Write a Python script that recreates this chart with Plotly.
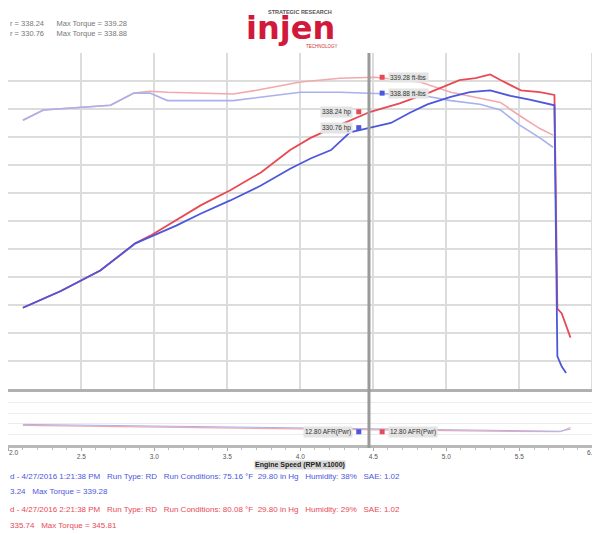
import plotly.graph_objects as go

# Design constants
RED = "#e84a55"
RED_LIGHT = "#f2a9ac"
BLUE = "#4c57dc"
BLUE_LIGHT = "#aab0ee"
GRID = "#dcdcdc"
CURSOR = "#9a9a9a"

# Engine speed (RPM x1000) and curves
rpm_hp_red = [2.10, 2.36, 2.63, 2.87, 2.97, 3.15, 3.32, 3.52, 3.73, 3.93, 4.07, 4.21, 4.34,
              4.48, 4.68, 4.89, 5.09, 5.20, 5.30, 5.37, 5.51, 5.64, 5.74, 5.76, 5.79, 5.85]
hp_red = [87, 105, 127, 156, 164, 181, 197, 213, 232, 256, 269, 279, 288,
          297, 306, 318, 331, 333, 337, 331, 320, 318, 315, 86, 81, 55]

rpm_hp_blue = [2.10, 2.36, 2.63, 2.87, 3.15, 3.32, 3.52, 3.73, 3.93, 4.07, 4.21, 4.34, 4.48,
               4.62, 4.75, 4.87, 5.03, 5.16, 5.30, 5.44, 5.57, 5.74, 5.76, 5.79, 5.82]
hp_blue = [87, 105, 127, 156, 175, 188, 202, 218, 236, 247, 256, 275, 280,
           285, 296, 305, 313, 318, 320, 314, 310, 304, 35, 24, 17]

rpm_tq = [2.10, 2.24, 2.70, 2.86, 2.97, 3.09, 3.54, 3.70, 4.00, 4.27, 4.51,
          4.82, 5.03, 5.23, 5.37, 5.50, 5.64, 5.73]
tq_red = [288, 299, 304, 317, 319, 318, 316, 320, 329, 333, 334,
          329, 318, 312, 307, 293, 279, 272]
tq_blue = [288, 299, 304, 317, 317, 309, 309, 312, 318, 318, 317,
           315, 309, 305, 299, 283, 269, 259]

rpm_afr = [2.10, 2.60, 3.20, 3.80, 4.40, 5.00, 5.50, 5.78, 5.85]
afr_red = [11.7, 11.5, 11.3, 11.1, 10.9, 10.7, 10.5, 10.5, 11.3]
afr_blue = [11.9, 11.7, 11.5, 11.3, 11.1, 10.9, 10.7, 10.6, 11.0]

x_ticks = [2.0, 2.5, 3.0, 3.5, 4.0, 4.5, 5.0, 5.5, 6.0]
x_ticktext = ["", "2.5", "3.0", "3.5", "4.0", "4.5", "5.0", "5.5", ""]
cursor_rpm = 4.47

header_lines = ["r = 338.24      Max Torque = 339.28",
                "r = 330.76      Max Torque = 338.88"]
run_lines = [
    "d - 4/27/2016 1:21:38 PM   Run Type: RD   Run Conditions: 75.16 °F  29.80 in Hg   Humidity: 38%   SAE: 1.02",
    "3.24   Max Torque = 339.28",
    "d - 4/27/2016 2:21:38 PM   Run Type: RD   Run Conditions: 80.08 °F  29.80 in Hg   Humidity: 29%   SAE: 1.02",
    "335.74   Max Torque = 345.81",
]


def py(p):
    """Seitenpixel (y) -> Paper-Koordinate."""
    return (445 - p) / 392


def px(p):
    """Seitenpixel (x) -> Paper-Koordinate."""
    return (p - 8) / 592


fig = go.Figure()

# Drehmoment (helle Linien)
fig.add_trace(go.Scatter(x=rpm_tq, y=tq_red, mode="lines",
                         line=dict(color=RED_LIGHT, width=1.6)))
fig.add_trace(go.Scatter(x=rpm_tq, y=tq_blue, mode="lines",
                         line=dict(color=BLUE_LIGHT, width=1.6)))
# Leistung
fig.add_trace(go.Scatter(x=rpm_hp_red, y=hp_red, mode="lines",
                         line=dict(color=RED, width=1.8)))
fig.add_trace(go.Scatter(x=rpm_hp_blue, y=hp_blue, mode="lines",
                         line=dict(color=BLUE, width=1.8)))

# AFR im unteren Panel
fig.add_trace(go.Scatter(x=rpm_afr, y=afr_red, mode="lines", xaxis="x2", yaxis="y2",
                         line=dict(color=RED_LIGHT, width=1.2)))
fig.add_trace(go.Scatter(x=rpm_afr, y=afr_blue, mode="lines", xaxis="x2", yaxis="y2",
                         line=dict(color=BLUE_LIGHT, width=1.0)))

# Cursor markers
fig.add_trace(go.Scatter(x=[4.40, 4.40, 4.56, 4.56], y=[297, 280, 334, 317], mode="markers",
                         marker=dict(symbol="square", size=5,
                                     color=[RED, BLUE, RED, BLUE])))
fig.add_trace(go.Scatter(x=[4.40, 4.56], y=[10.5, 10.5], mode="markers", xaxis="x2", yaxis="y2",
                         marker=dict(symbol="square", size=5, color=[BLUE, RED])))

xr = [1.998, 6.052]
fig.update_layout(
    width=592, height=526,
    paper_bgcolor="white", plot_bgcolor="white",
    margin=dict(l=0, r=0, t=45, b=89),
    showlegend=False,
    font=dict(family="Arial, Liberation Sans, sans-serif"),
    xaxis=dict(domain=[0, 1], range=xr, anchor="y", tickvals=x_ticks, showticklabels=False,
               gridcolor=GRID, gridwidth=1.5, zeroline=False,
               showline=True, linecolor="#b0b0b0", linewidth=3),
    yaxis=dict(domain=[0.143, 1], range=[0, 360], dtick=30, showticklabels=False,
               gridcolor=GRID, gridwidth=1.5, zeroline=False, showline=False),
    xaxis2=dict(domain=[0, 1], range=xr, anchor="y2", tickvals=x_ticks, ticktext=x_ticktext,
                tickfont=dict(size=6.5, color="#555"), showgrid=False, zeroline=False,
                showline=True, linecolor="#b8b8b8", linewidth=3,
                ticks="outside", ticklen=3, tickcolor="#aaa",
                minor=dict(dtick=0.1, ticks="outside", ticklen=2, tickcolor="#bbb")),
    yaxis2=dict(domain=[0, 0.135], range=[8, 18], dtick=2, showticklabels=False,
                gridcolor="#ececec", gridwidth=1, zeroline=False),
)

# Cursor line across both panels
fig.add_shape(type="line", xref="x", yref="paper", x0=cursor_rpm, x1=cursor_rpm,
              y0=py(448), y1=1, line=dict(color=CURSOR, width=3))

box = dict(bgcolor="#e4e4e4", borderpad=1, font=dict(size=6.5, color="#333"))
for txt, x, y, anc in [
    ("338.24 hp", 4.36, 297, "right"),
    ("330.76 hp", 4.36, 280, "right"),
    ("339.28 ft-lbs", 4.60, 334, "left"),
    ("338.88 ft-lbs", 4.60, 317, "left"),
]:
    fig.add_annotation(x=x, y=y, xref="x", yref="y", text=txt, showarrow=False,
                       xanchor=anc, **box)
fig.add_annotation(x=4.36, y=10.5, xref="x2", yref="y2", text="12.80 AFR(Pwr)",
                   showarrow=False, xanchor="right", **box)
fig.add_annotation(x=4.60, y=10.5, xref="x2", yref="y2", text="12.80 AFR(Pwr)",
                   showarrow=False, xanchor="left", **box)

# Randbeschriftungen der x-Achse
fig.add_annotation(x=0, y=py(452), xref="paper", yref="paper", xanchor="left", yanchor="middle",
                   text="2.0", showarrow=False, borderpad=0, font=dict(size=6.5, color="#555"))
fig.add_annotation(x=px(597), y=py(452), xref="paper", yref="paper", xanchor="right",
                   yanchor="middle", text="6.0", showarrow=False, borderpad=0,
                   font=dict(size=6.5, color="#555"))

# Achsentitel
fig.add_annotation(x=px(300), y=py(465), xref="paper", yref="paper", yanchor="middle",
                   text="<b>Engine Speed (RPM x1000)</b>", showarrow=False,
                   bgcolor="#d8d8d8", borderpad=0, font=dict(size=7, color="#222"))

# Kopfzeile
for txt, ypx in zip(header_lines, [24, 33]):
    fig.add_annotation(x=0, y=py(ypx), xref="paper", yref="paper", xanchor="left",
                       yanchor="middle", text=txt, showarrow=False,
                       font=dict(size=7.5, color="#777"))

# Logo
fig.add_annotation(x=px(300), y=1 + 45 / 392, xref="paper", yref="paper", yanchor="top",
                   text="<b>STRATEGIC RESEARCH</b>", showarrow=False, borderpad=0,
                   font=dict(size=5.5, color="#555"))
fig.add_annotation(x=px(290), y=py(28), xref="paper", yref="paper", yanchor="middle",
                   text="<b>injen</b>", showarrow=False, borderpad=0,
                   font=dict(size=32, color="#d11a3b", family="Arial Black, DejaVu Sans"))
fig.add_annotation(x=px(322), y=py(46), xref="paper", yref="paper", yanchor="middle",
                   text="TECHNOLOGY", showarrow=False, borderpad=0,
                   font=dict(size=4.5, color="#c33"))

# Laufdaten unten
for txt, ypx, col in zip(run_lines, [476, 491, 509, 525], [BLUE, BLUE, RED, RED]):
    fig.add_annotation(x=0, y=py(ypx), xref="paper", yref="paper",
                       xanchor="left", yanchor="middle", text=txt, showarrow=False,
                       font=dict(size=8, color=col))

fig.write_html("out.html")
